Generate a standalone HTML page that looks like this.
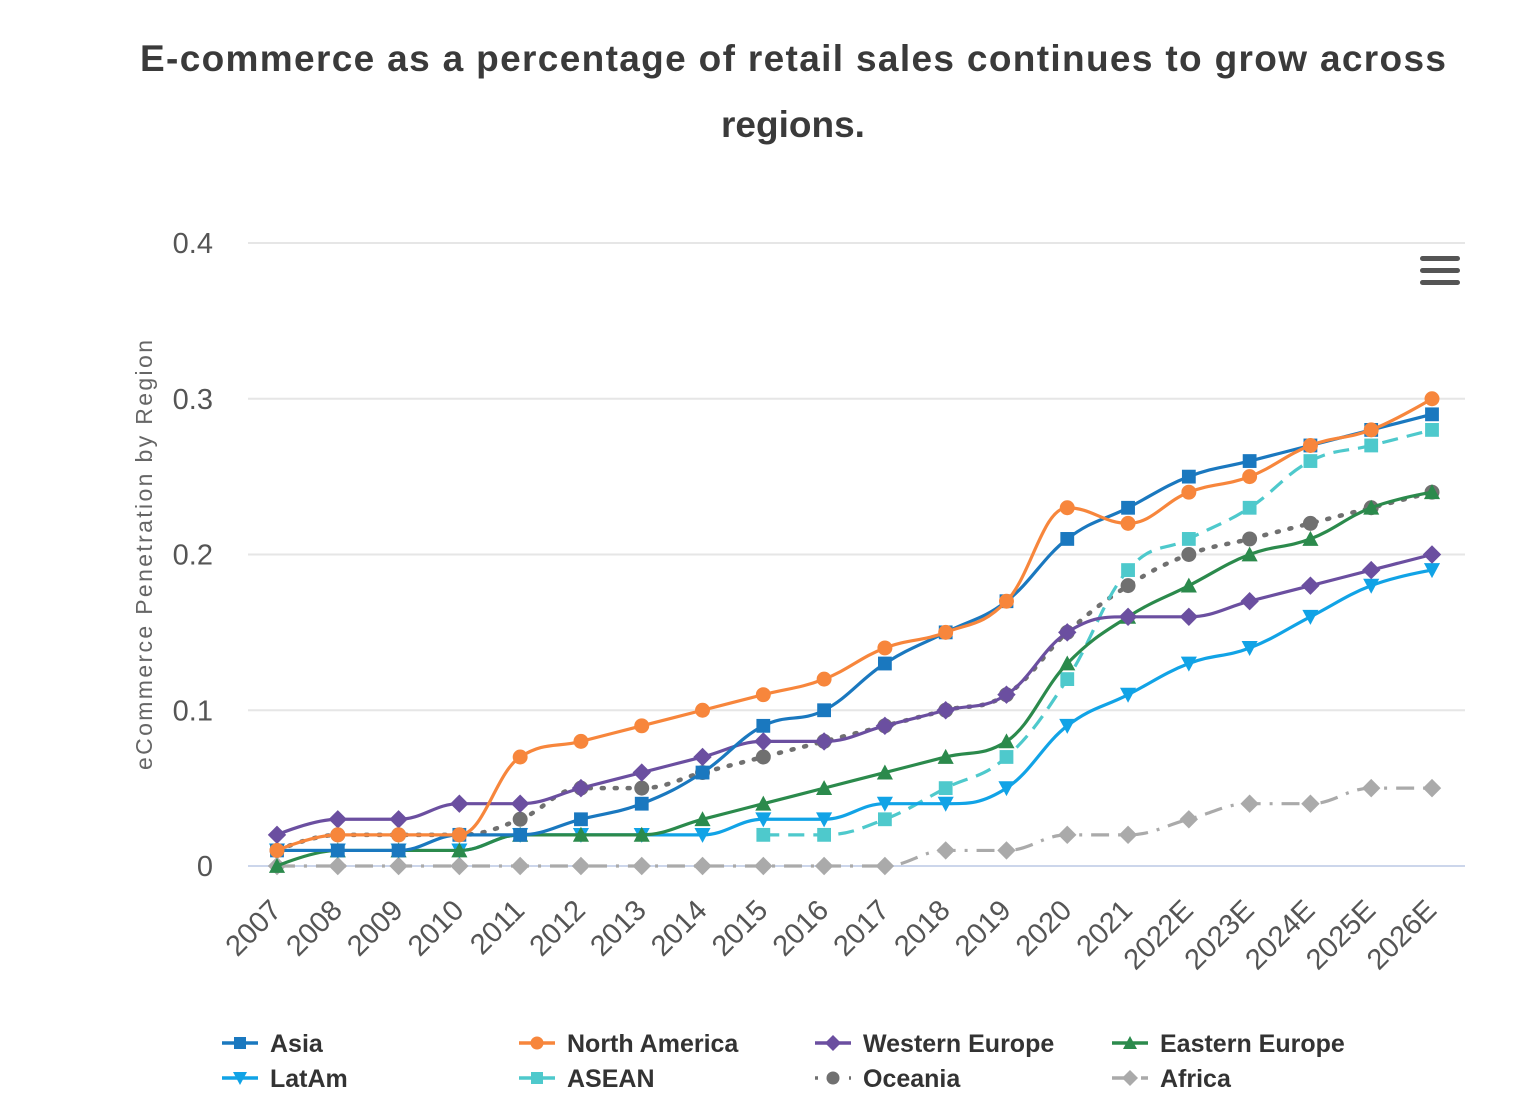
<!DOCTYPE html>
<html><head><meta charset="utf-8"><style>
body{margin:0;background:#fff;width:1536px;height:1120px;overflow:hidden;font-family:"Liberation Sans",sans-serif}
svg{position:absolute;left:0;top:0}
</style></head><body>
<svg id="c" width="1536" height="1120">
<text x="793" y="71" text-anchor="middle" font-size="37" font-weight="bold" fill="#3a3a3a" textLength="1306" lengthAdjust="spacing">E-commerce as a percentage of retail sales continues to grow across</text>
<text x="793" y="137" text-anchor="middle" font-size="37" font-weight="bold" fill="#3a3a3a">regions.</text>
<text transform="translate(152,555) rotate(-90)" text-anchor="middle" font-size="23" fill="#666" textLength="430" lengthAdjust="spacing">eCommerce Penetration by Region</text>
<g>
<rect x="1420" y="256" width="40" height="5" rx="2.5" fill="#555"/>
<rect x="1420" y="268" width="40" height="5" rx="2.5" fill="#555"/>
<rect x="1420" y="280" width="40" height="5" rx="2.5" fill="#555"/>
</g>
<g id="grid"></g><g id="series"></g><g id="xlab"></g><g id="legend"></g>
</svg>
<script>
const categories=["2007","2008","2009","2010","2011","2012","2013","2014","2015","2016","2017","2018","2019","2020","2021","2022E","2023E","2024E","2025E","2026E"];
const yTicks=[0,0.1,0.2,0.3,0.4];
const yTickLabels=["0","0.1","0.2","0.3","0.4"];
const asia=[.01,.01,.01,.02,.02,.03,.04,.06,.09,.10,.13,.15,.17,.21,.23,.25,.26,.27,.28,.29];
const northAmerica=[.01,.02,.02,.02,.07,.08,.09,.10,.11,.12,.14,.15,.17,.23,.22,.24,.25,.27,.28,.30];
const westernEurope=[.02,.03,.03,.04,.04,.05,.06,.07,.08,.08,.09,.10,.11,.15,.16,.16,.17,.18,.19,.20];
const easternEurope=[0,.01,.01,.01,.02,.02,.02,.03,.04,.05,.06,.07,.08,.13,.16,.18,.20,.21,.23,.24];
const latAm=[.01,.01,.01,.01,.02,.02,.02,.02,.03,.03,.04,.04,.05,.09,.11,.13,.14,.16,.18,.19];
const asean=[null,null,null,null,null,null,null,null,.02,.02,.03,.05,.07,.12,.19,.21,.23,.26,.27,.28];
const oceania=[.01,.02,.02,.02,.03,.05,.05,.06,.07,.08,.09,.10,.11,.15,.18,.20,.21,.22,.23,.24];
const africa=[0,0,0,0,0,0,0,0,0,0,0,.01,.01,.02,.02,.03,.04,.04,.05,.05];
const seriesNames=["Asia","North America","Western Europe","Eastern Europe","LatAm","ASEAN","Oceania","Africa"];

const NS="http://www.w3.org/2000/svg";
function mk(t,a,p){const e=document.createElementNS(NS,t);for(const k in a)e.setAttribute(k,a[k]);p.appendChild(e);return e;}
const X=i=>277+i*(1432-277)/(categories.length-1);
const Y=v=>866-v*(866-243)/0.4;

const grid=document.getElementById('grid');
yTicks.forEach((t,i)=>{
 const l=mk('line',{x1:248,x2:1465,y1:Y(t),y2:Y(t),stroke:t===0?'#ccd6eb':'#e6e6e6','stroke-width':2},grid);
 
 
 const tx=mk('text',{x:213,y:Y(t)+10,'text-anchor':'end','font-size':29,fill:'#555'},grid);
 tx.textContent=yTickLabels[i];
 
 
});
const xl=document.getElementById('xlab');
categories.forEach((c,i)=>{
 const tx=mk('text',{transform:`translate(${X(i)+6},${912}) rotate(-45)`,'text-anchor':'end','font-size':29,fill:'#555'},xl);
 tx.textContent=c;
 
 
});

const defs=[
 {d:asia,c:'#1a78bf',m:'square',dash:''},
 {d:northAmerica,c:'#f7863c',m:'circle',dash:''},
 {d:westernEurope,c:'#6b4fa0',m:'diamond',dash:''},
 {d:easternEurope,c:'#2b8a4c',m:'triangle',dash:''},
 {d:latAm,c:'#11a3e6',m:'tridown',dash:''},
 {d:asean,c:'#4ec9cc',m:'square',dash:'16,9'},
 {d:oceania,c:'#707070',m:'circle',dash:'2,11'},
 {d:africa,c:'#aaaaaa',m:'diamond',dash:'18,9,3,9'}
];
function ctrl(prv,pp,nxt){
 const sm=1.5,den=sm+1;
 let lcx=(sm*pp[0]+prv[0])/den,lcy=(sm*pp[1]+prv[1])/den,rcx=(sm*pp[0]+nxt[0])/den,rcy=(sm*pp[1]+nxt[1])/den;
 let corr=0;if(rcx!==lcx)corr=((rcy-lcy)*(rcx-pp[0]))/(rcx-lcx)+pp[1]-rcy;
 rcy+=corr;lcy+=corr;
 if(lcy>prv[1]&&lcy>pp[1]){lcy=Math.max(prv[1],pp[1]);rcy=2*pp[1]-lcy;}
 else if(lcy<prv[1]&&lcy<pp[1]){lcy=Math.min(prv[1],pp[1]);rcy=2*pp[1]-lcy;}
 if(rcy>nxt[1]&&rcy>pp[1]){rcy=Math.max(nxt[1],pp[1]);lcy=2*pp[1]-rcy;}
 else if(rcy<nxt[1]&&rcy<pp[1]){rcy=Math.min(nxt[1],pp[1]);lcy=2*pp[1]-rcy;}
 return [lcx,lcy,rcx,rcy];
}
function splinePath(pts){
 let p='M'+pts[0][0]+','+pts[0][1];
 for(let i=1;i<pts.length;i++){
  const [x,y]=pts[i],[lx,ly]=pts[i-1];
  let c1x=lx,c1y=ly,c2x=x,c2y=y;
  if(i>=2){const c=ctrl(pts[i-2],pts[i-1],pts[i]);c1x=c[2];c1y=c[3];}
  if(i<pts.length-1){const c=ctrl(pts[i-1],pts[i],pts[i+1]);c2x=c[0];c2y=c[1];}
  p+=` C${c1x},${c1y} ${c2x},${c2y} ${x},${y}`;
 }
 return p;
}
function marker(type,x,y,c,g,s){
 s=s||1;let e;
 if(type==='square')e=mk('rect',{x:x-6*s,y:y-6*s,width:12*s,height:12*s,fill:c},g);
 else if(type==='circle')e=mk('circle',{cx:x,cy:y,r:6.5*s,fill:c},g);
 else if(type==='diamond')e=mk('path',{d:`M${x},${y-8*s}L${x+8*s},${y}L${x},${y+8*s}L${x-8*s},${y}Z`,fill:c},g);
 else if(type==='triangle')e=mk('path',{d:`M${x},${y-7*s}L${x+7*s},${y+6*s}L${x-7*s},${y+6*s}Z`,fill:c},g);
 else e=mk('path',{d:`M${x-7*s},${y-6*s}L${x+7*s},${y-6*s}L${x},${y+7*s}Z`,fill:c},g);
 return e;
}
const sg=document.getElementById('series');
const order=[7,6,5,4,3,2,0,1];
order.forEach(k=>{
 const s=defs[k];
 const g=mk('g',{},sg);
 
 
 const pts=[];s.d.forEach((v,i)=>{if(v!==null)pts.push([X(i),Y(v)]);});
 const ln=mk('path',{d:splinePath(pts),fill:'none',stroke:s.c,'stroke-width':3.2,'stroke-dasharray':s.dash,'stroke-linecap':s.dash==='2,11'?'round':'butt'},g);
 if(s.dash==='2,11')ln.setAttribute('stroke-width',4.5);
 
 
 pts.forEach(p=>{
  const m=marker(s.m,p[0],p[1],s.c,g,1.15);
  
  
 });
});
const lg=document.getElementById('legend');
const lx=[222,519,815,1112],ly=[1043,1078];
seriesNames.forEach((n,k)=>{
 const s=defs[k];const x=lx[k%4],y=ly[Math.floor(k/4)];
 const g=mk('g',{},lg);
 
 
 mk('line',{x1:x,x2:x+36,y1:y,y2:y,stroke:s.c,'stroke-width':3.5,'stroke-dasharray':s.dash==='16,9'?'16,6':s.dash==='2,11'?'3,14':s.dash==='18,9,3,9'?'14,6,3,6':''},g);
 marker(s.m,x+18,y,s.c,g);
 const t=mk('text',{x:x+48,y:y+9,'font-size':25,'font-weight':'bold',fill:'#333'},g);
 t.textContent=n;
});
</script>
</body></html>
